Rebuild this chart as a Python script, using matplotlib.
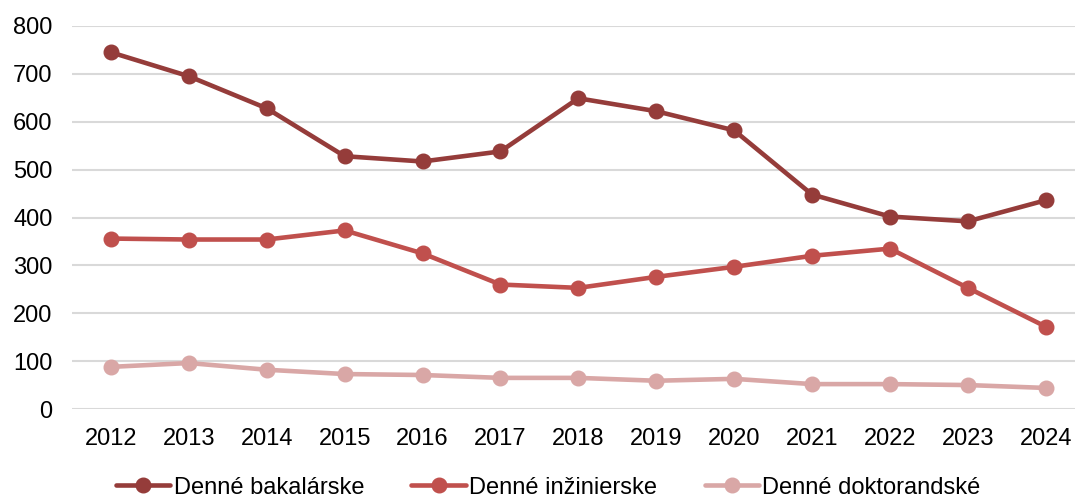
import matplotlib
matplotlib.use("Agg")
import matplotlib.pyplot as plt

years = ["2012", "2013", "2014", "2015", "2016", "2017", "2018", "2019", "2020", "2021", "2022", "2023", "2024"]
bakalarske = [745, 695, 628, 528, 517, 538, 649, 622, 582, 448, 402, 392, 436]
inzinierske = [356, 354, 354, 373, 325, 260, 253, 276, 297, 320, 335, 253, 172]
doktorandske = [88, 96, 82, 73, 71, 65, 65, 59, 63, 52, 52, 50, 44]
labels = ["Denné bakalárske", "Denné inžinierske", "Denné doktorandské"]
colors = ["#953C3A", "#C0504D", "#D9A7A6"]

plt.rcParams['font.family'] = ['Liberation Sans', 'DejaVu Sans']
fig = plt.figure(figsize=(10.75, 5), dpi=100)
ax = fig.add_axes([0.067, 0.182, 0.942, 0.766])
x = list(range(len(years)))
for vals, lab, c in zip([bakalarske, inzinierske, doktorandske], labels, colors):
    ax.plot(x, vals, color=c, lw=3.3, marker='o', ms=10.5, label=lab, solid_capstyle='round')
ax.set_xlim(-0.5, len(years) - 0.5)
ax.set_ylim(0, 800)
ax.set_yticks(range(0, 801, 100))
ax.set_xticks(x)
ax.set_xticklabels(years)
ax.tick_params(axis='both', length=0, labelsize=17, colors='#000000')
ax.tick_params(axis='x', pad=14)
ax.tick_params(axis='y', pad=14)
ax.grid(axis='y', color='#D9D9D9', lw=1.5)
ax.set_axisbelow(True)
for s in ax.spines.values():
    s.set_visible(False)
fig.legend(*ax.get_legend_handles_labels(), loc='center', bbox_to_anchor=(0.51, 0.025),
           bbox_transform=fig.transFigure, ncol=3, frameon=False,
           fontsize=17, handlelength=2.3, handletextpad=0.15, columnspacing=2.0,
           borderpad=0, borderaxespad=0)
fig.savefig("out.png", dpi=100)
